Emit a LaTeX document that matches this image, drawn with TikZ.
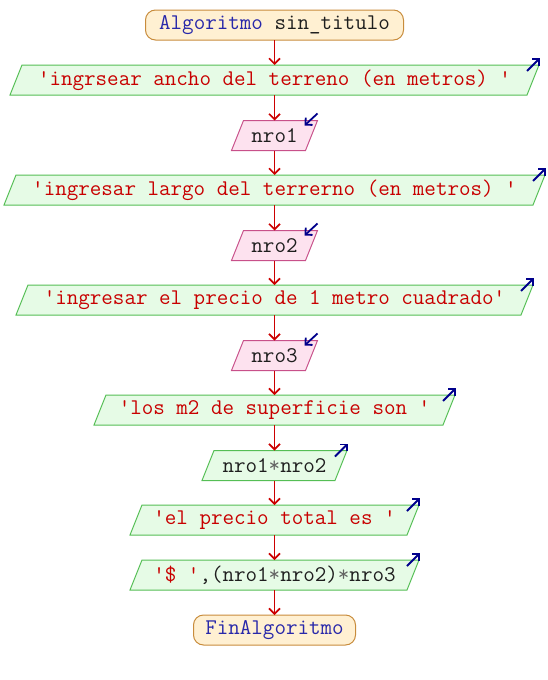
\documentclass[tikz,border=0pt]{standalone}
\usepackage{fontspec}
\usetikzlibrary{arrows.meta,backgrounds}
\definecolor{strcol}{RGB}{200,0,0}
\definecolor{varcol}{RGB}{30,30,30}
\definecolor{opcol}{RGB}{100,100,100}
\definecolor{kwcol}{RGB}{40,40,170}
\definecolor{flowcol}{RGB}{204,0,0}
\definecolor{cornercol}{RGB}{0,0,140}
\definecolor{outfill}{RGB}{230,251,230}
\definecolor{outdraw}{RGB}{85,190,85}
\definecolor{infill}{RGB}{253,226,239}
\definecolor{indraw}{RGB}{200,80,138}
\definecolor{termfill}{RGB}{255,240,210}
\definecolor{termdraw}{RGB}{200,140,60}
\newcommand{\str}[1]{\textcolor{strcol}{#1}}
\newcommand{\vr}[1]{\textcolor{varcol}{#1}}
\newcommand{\op}[1]{\textcolor{opcol}{#1}}
\newcommand{\kw}[1]{\textcolor{kwcol}{#1}}
\begin{document}
\begin{tikzpicture}[x=1pt,y=1pt,
  every node/.style={font=\ttfamily\fontsize{22.4}{24}\selectfont, inner sep=0pt, outer sep=0pt},
  term/.style={draw=termdraw, fill=termfill, line width=1pt, rounded corners=10pt, minimum height=30pt},
  iobox/.style={minimum height=30pt},
  outshape/.style={draw=outdraw, fill=outfill, line width=1pt},
  inshape/.style={draw=indraw, fill=infill, line width=1pt},
  flow/.style={draw=flowcol, line width=1.6pt, -{Straight Barb[length=5.5pt,width=11pt]}},
  corner/.style={draw=cornercol, line width=1.8pt, -{Straight Barb[length=5pt,width=10pt]}}
]
\useasboundingbox (0,0) rectangle (548,-680);

% terminals
\node[term, minimum width=258pt] (start) at (274.5,-25) {\kw{Algoritmo} \vr{sin\_titulo}};
\node[term, minimum width=162pt] (fin) at (274.5,-630) {\kw{FinAlgoritmo}};

% output and input blocks (text boxes; outlines drawn on background)
\node[iobox, minimum width=517pt] (o1) at (274.5,-80) {\str{'ingrsear ancho del terreno (en metros) '}};
\node[iobox, minimum width=74pt]  (i1) at (274.5,-135.5) {\vr{nro1}};
\node[iobox, minimum width=529pt] (o2) at (274.5,-190) {\str{'ingresar largo del terrerno (en metros) '}};
\node[iobox, minimum width=74pt]  (i2) at (274.5,-245.5) {\vr{nro2}};
\node[iobox, minimum width=505pt] (o3) at (274.5,-300) {\str{'ingresar el precio de 1 metro cuadrado'}};
\node[iobox, minimum width=74pt]  (i3) at (274.5,-355.5) {\vr{nro3}};
\node[iobox, minimum width=349pt] (o4) at (274.5,-410) {\str{'los m2 de superficie son '}};
\node[iobox, minimum width=133pt] (o5) at (274.5,-465.5) {\vr{nro1}\op{*}\vr{nro2}};
\node[iobox, minimum width=277pt] (o6) at (274.5,-520) {\str{'el precio total es '}};
\node[iobox, minimum width=277pt] (o7) at (274.5,-575) {\str{'\$ '}\vr{,(nro1}\op{*}\vr{nro2)}\op{*}\vr{nro3}};

\begin{scope}[on background layer]
  \foreach \n in {o1,o2,o3,o4,o5,o6,o7}
    \draw[outshape] ([xshift=6pt]\n.north west) -- ([xshift=6pt]\n.north east)
      -- ([xshift=-6pt]\n.south east) -- ([xshift=-6pt]\n.south west) -- cycle;
  \foreach \n in {i1,i2,i3}
    \draw[inshape] ([xshift=6pt]\n.north west) -- ([xshift=6pt]\n.north east)
      -- ([xshift=-6pt]\n.south east) -- ([xshift=-6pt]\n.south west) -- cycle;
\end{scope}

% corner markers: output points out, input points in
\foreach \n in {o1,o2,o3,o4,o5,o6,o7}
  \draw[corner] ([xshift=-6pt,yshift=-6pt]\n.north east) -- ++(13pt,13pt);
\foreach \n in {i1,i2,i3}
  \draw[corner] ([xshift=6pt,yshift=7pt]\n.north east) -- ++(-13pt,-12pt);

% flow connectors
\draw[flow] (start) -- (o1);
\draw[flow] (o1) -- (i1);
\draw[flow] (i1) -- (o2);
\draw[flow] (o2) -- (i2);
\draw[flow] (i2) -- (o3);
\draw[flow] (o3) -- (i3);
\draw[flow] (i3) -- (o4);
\draw[flow] (o4) -- (o5);
\draw[flow] (o5) -- (o6);
\draw[flow] (o6) -- (o7);
\draw[flow] (o7) -- (fin);
\end{tikzpicture}
\end{document}
